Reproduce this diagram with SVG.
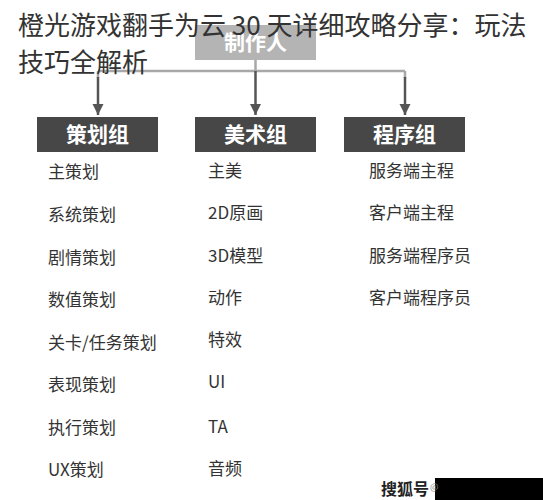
<svg xmlns="http://www.w3.org/2000/svg" width="543" height="500" viewBox="0 0 543 500">
<style>
.t{font-family:"Noto Sans CJK SC","Noto Sans",sans-serif;}
.title{font-size:26px;fill:#333;}
.box1{fill:#b4b4b4;}
.box2{fill:#474747;}
.bt{font-size:21px;font-weight:bold;fill:#fff;text-anchor:middle;}
.it{font-size:17px;fill:#333;}
.ln{stroke:#a8a8a8;stroke-width:2.5;fill:none;}
.dl{stroke:#555;stroke-width:2.5;fill:none;}
</style>
<defs>
<marker id="ah" viewBox="0 0 10 10" refX="10" refY="5" markerWidth="4.5" markerHeight="4.5" orient="auto" markerUnits="strokeWidth">
<path d="M0,0 L10,5 L0,10 z" fill="#555"/>
</marker>
</defs>
<rect width="543" height="500" fill="#fff"/>
<g id="producer">
<rect class="box1" x="195" y="25" width="121" height="35"/>
<text class="t bt" x="255.5" y="50">制作人</text>
</g>
<g id="connectors">
<path class="ln" d="M255.5,60 V71 M98,71 H405 M98,71 V78 M405,71 V78"/>
<path class="dl" d="M98,77 V115" marker-end="url(#ah)"/>
<path class="dl" d="M255.5,71 V115" marker-end="url(#ah)"/>
<path class="dl" d="M405,77 V115" marker-end="url(#ah)"/>
</g>
<g id="planning">
<rect class="box2" x="37" y="117" width="121" height="35"/>
<text class="t bt" x="97.5" y="142">策划组</text>
<text class="t it" x="48" y="178">主策划</text>
<text class="t it" x="48" y="221">系统策划</text>
<text class="t it" x="48" y="264">剧情策划</text>
<text class="t it" x="48" y="306">数值策划</text>
<text class="t it" x="48" y="349">关卡/任务策划</text>
<text class="t it" x="48" y="391">表现策划</text>
<text class="t it" x="48" y="434">执行策划</text>
<text class="t it" x="48" y="476">UX策划</text>
</g>
<g id="art">
<rect class="box2" x="195" y="117" width="121" height="35"/>
<text class="t bt" x="255.5" y="142">美术组</text>
<text class="t it" x="208" y="177">主美</text>
<text class="t it" x="208" y="219">2D原画</text>
<text class="t it" x="208" y="262">3D模型</text>
<text class="t it" x="208" y="304">动作</text>
<text class="t it" x="208" y="346">特效</text>
<text class="t it" x="208" y="388">UI</text>
<text class="t it" x="208" y="433">TA</text>
<text class="t it" x="208" y="475">音频</text>
</g>
<g id="program">
<rect class="box2" x="344" y="117" width="121" height="35"/>
<text class="t bt" x="404.5" y="142">程序组</text>
<text class="t it" x="369" y="177">服务端主程</text>
<text class="t it" x="369" y="219">客户端主程</text>
<text class="t it" x="369" y="262">服务端程序员</text>
<text class="t it" x="369" y="304">客户端程序员</text>
</g>
<g id="title">
<text class="t title" x="18" y="35">橙光游戏翻手为云 30 天详细攻略分享：玩法</text>
<text class="t title" x="18" y="72">技巧全解析</text>
</g>
<g id="watermark">
<rect x="435" y="478" width="108" height="22" fill="#000"/>
<text class="t" x="381" y="495" font-size="16" font-weight="bold" fill="#222">搜狐号</text>
<text class="t" x="430" y="490" font-size="9" fill="#888">@</text>
</g>
</svg>
